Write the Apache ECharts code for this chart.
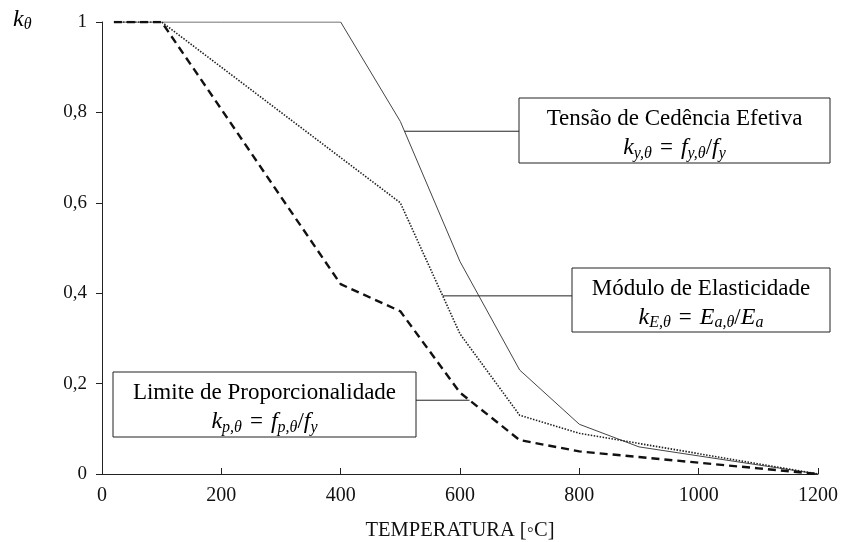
<!DOCTYPE html>
<html>
<head>
<meta charset="utf-8">
<script src="https://cdn.jsdelivr.net/npm/echarts@6/dist/echarts.min.js"></script>
<style>
  html, body { margin: 0; padding: 0; background: #fff; }
  #chart { width: 847px; height: 542px; }
</style>
</head>
<body>
<div id="chart"></div>
<script>
    // temperaturas (°C) e fatores de redução
    var temperaturas = [20, 100, 200, 300, 400, 500, 600, 700, 800, 900, 1000, 1100, 1200];
    var kY = [1, 1, 1, 1, 1, 0.78, 0.47, 0.23, 0.11, 0.06, 0.04, 0.02, 0];
    var kE = [1, 1, 0.9, 0.8, 0.7, 0.6, 0.31, 0.13, 0.09, 0.0675, 0.045, 0.0225, 0];
    var kP = [1, 1, 0.807, 0.613, 0.42, 0.36, 0.18, 0.075, 0.05, 0.0375, 0.025, 0.0125, 0];

    var xTicks = [0, 200, 400, 600, 800, 1000, 1200];
    var yTicks = [0, 0.2, 0.4, 0.6, 0.8, 1];

    var serif = '"Liberation Serif", "DejaVu Serif", serif';

    function pares(ys) {
        return temperaturas.map(function (t, i) { return [t, ys[i]]; });
    }

    var myChart = echarts.init(document.getElementById('chart'));

    var option = {
        backgroundColor: '#fff',
        animation: false,
        grid: { left: 102, right: 29, top: 22, bottom: 68, outerBoundsMode: 'none' },
        xAxis: {
            type: 'value',
            min: xTicks[0],
            max: xTicks[xTicks.length - 1],
            interval: 200,
            name: 'TEMPERATURA [◦C]',
            nameLocation: 'middle',
            nameGap: 46,
            nameTextStyle: { fontFamily: serif, fontSize: 20.5, color: '#111' },
            axisLine: { lineStyle: { color: '#222', width: 1 } },
            axisTick: { inside: true, length: 6, lineStyle: { color: '#222' } },
            axisLabel: {
                fontFamily: serif, fontSize: 20, color: '#111', margin: 12,
                formatter: function (v) { return String(v); }
            },
            splitLine: { show: false }
        },
        yAxis: {
            type: 'value',
            min: yTicks[0],
            max: yTicks[yTicks.length - 1],
            interval: 0.2,
            axisLine: { show: true, lineStyle: { color: '#222', width: 1 } },
            axisTick: { show: true, length: 6, lineStyle: { color: '#222' } },
            axisLabel: {
                fontFamily: serif, fontSize: 19, color: '#111', margin: 15,
                formatter: function (v) { return String(+v.toFixed(1)).replace('.', ','); }
            },
            splitLine: { show: false }
        },
        series: [
            {
                name: 'ky', type: 'line', data: pares(kY), symbol: 'none',
                lineStyle: { color: '#444', width: 1, type: 'solid' }
            },
            {
                name: 'kE', type: 'line', data: pares(kE), symbol: 'none',
                lineStyle: { color: '#222', width: 1.6, type: [1.5, 1.5] }
            },
            {
                name: 'kp', type: 'line', data: pares(kP), symbol: 'none',
                lineStyle: { color: '#111', width: 2.4, type: [8, 5] }
            }
        ]
    };
    myChart.setOption(option);

    // caixas de anotação com linha de chamada até à curva
    function ponto(x, ys) {
        var i = 0;
        while (temperaturas[i + 1] < x) i++;
        var t = (x - temperaturas[i]) / (temperaturas[i + 1] - temperaturas[i]);
        var y = ys[i] + t * (ys[i + 1] - ys[i]);
        return myChart.convertToPixel({ gridIndex: 0 }, [x, y]);
    }

    var rich = {
        t: { fontFamily: serif, fontSize: 23, color: '#111', lineHeight: 29 },
        i: { fontFamily: serif, fontStyle: 'italic', fontSize: 24, color: '#111', lineHeight: 29 },
        s: { fontFamily: serif, fontStyle: 'italic', fontSize: 16, color: '#111', lineHeight: 29, padding: [11, 0, 0, 0] },
        n: { fontFamily: serif, fontSize: 23, color: '#111', lineHeight: 29 },
        eq: { fontFamily: serif, fontSize: 23, color: '#111', lineHeight: 29, padding: [0, 8, 0, 8] },
        k: { fontFamily: serif, fontStyle: 'italic', fontSize: 24, color: '#111', lineHeight: 26 },
        ks: { fontFamily: serif, fontStyle: 'italic', fontSize: 16, color: '#111', lineHeight: 26, padding: [10, 0, 0, 0] }
    };

    function caixa(x, y, w, h, texto) {
        return [
            {
                type: 'rect', z: 10,
                shape: { x: x, y: y, width: w, height: h },
                style: { fill: '#fff', stroke: '#222', lineWidth: 1 }
            },
            {
                type: 'text', z: 11, x: x + w / 2, y: y + h / 2 + 3,
                style: { text: texto, rich: rich, align: 'center', verticalAlign: 'middle' }
            }
        ];
    }

    var pY = ponto(507, kY);
    var pE = ponto(571, kE);
    var pP = ponto(616, kP);

    var graphic = [
        { type: 'line', z: 9, shape: { x1: pY[0], y1: pY[1], x2: 519, y2: pY[1] }, style: { stroke: '#222', lineWidth: 1 } },
        { type: 'line', z: 9, shape: { x1: pE[0], y1: pE[1], x2: 572, y2: pE[1] }, style: { stroke: '#222', lineWidth: 1 } },
        { type: 'line', z: 9, shape: { x1: 416, y1: pP[1], x2: pP[0], y2: pP[1] }, style: { stroke: '#222', lineWidth: 1 } },
        {
            type: 'text', x: 13, y: 7,
            style: { text: '{k|k}{ks|θ}', rich: rich }
        }
    ];
    graphic = graphic
        .concat(caixa(519, 98, 311, 65, '{t|Tensão de Cedência Efetiva}\n{i|k}{s|y,θ}{eq|=}{i|f}{s|y,θ}{n|/}{i|f}{s|y}'))
        .concat(caixa(572, 268, 258, 64, '{t|Módulo de Elasticidade}\n{i|k}{s|E,θ}{eq|=}{i|E}{s|a,θ}{n|/}{i|E}{s|a}'))
        .concat(caixa(113, 372, 303, 65, '{t|Limite de Proporcionalidade}\n{i|k}{s|p,θ}{eq|=}{i|f}{s|p,θ}{n|/}{i|f}{s|y}'));

    myChart.setOption({ graphic: graphic });
</script>
</body>
</html>
